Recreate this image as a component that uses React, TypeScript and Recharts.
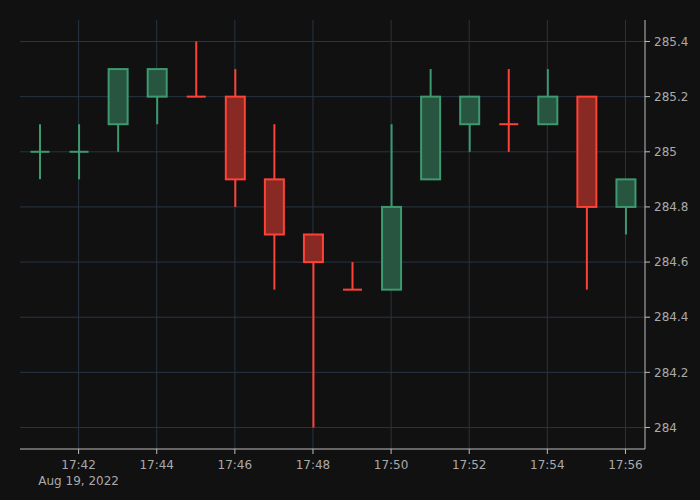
import React from 'react';
import { ComposedChart, Bar, XAxis, YAxis, CartesianGrid } from 'recharts';

const minutes = [41, 42, 43, 44, 45, 46, 47, 48, 49, 50, 51, 52, 53, 54, 55, 56];
const opens = [285.0, 285.0, 285.1, 285.2, 285.2, 285.2, 284.9, 284.7, 284.5, 284.5, 284.9, 285.1, 285.1, 285.1, 285.2, 284.8];
const highs = [285.1, 285.1, 285.3, 285.3, 285.4, 285.3, 285.1, 284.7, 284.6, 285.1, 285.3, 285.2, 285.3, 285.3, 285.2, 284.9];
const lows = [284.9, 284.9, 285.0, 285.1, 285.2, 284.8, 284.5, 284.0, 284.5, 284.5, 284.9, 285.0, 285.0, 285.1, 284.5, 284.7];
const closes = [285.0, 285.0, 285.3, 285.3, 285.2, 284.9, 284.7, 284.6, 284.5, 284.8, 285.2, 285.2, 285.1, 285.2, 284.8, 284.9];
const isUp = [true, true, true, true, false, false, false, false, false, true, true, true, false, true, false, true];

const xTicks = [42, 44, 46, 48, 50, 52, 54, 56];
const yTicks = [284, 284.2, 284.4, 284.6, 284.8, 285, 285.2, 285.4];
const dateLabel = 'Aug 19, 2022';

const data = minutes.map((m, i) => ({
  t: m,
  open: opens[i],
  high: highs[i],
  low: lows[i],
  close: closes[i],
  up: isUp[i],
  range: [lows[i], highs[i]],
}));

const UP_LINE = '#3D9970';
const UP_FILL = '#275540';
const DN_LINE = '#FF4136';
const DN_FILL = '#882923';
const TEXT = '#aaaaaa';
const AXIS = '#bdbdbd';
const GRID = '#283442';
const FONT = 'DejaVu Sans, sans-serif';

const Candle = (props: any) => {
  const { x, y, width, height, payload } = props;
  const { open, high, low, close, up } = payload;
  const cx = x + width / 2;
  const span = high - low;
  const toY = (v: number) => (span === 0 ? y : y + ((high - v) / span) * height);
  const yHigh = y;
  const yLow = y + height;
  const yO = toY(open);
  const yC = toY(close);
  const top = Math.min(yO, yC);
  const bot = Math.max(yO, yC);
  const line = up ? UP_LINE : DN_LINE;
  const fill = up ? UP_FILL : DN_FILL;
  const bw = 19;
  return (
    <g>
      {top > yHigh && <line x1={cx} x2={cx} y1={yHigh} y2={top} stroke={line} strokeWidth={2} />}
      {yLow > bot && <line x1={cx} x2={cx} y1={bot} y2={yLow} stroke={line} strokeWidth={2} />}
      {bot - top < 0.5 ? (
        <line x1={cx - bw / 2} x2={cx + bw / 2} y1={top} y2={top} stroke={line} strokeWidth={2} />
      ) : (
        <rect x={cx - bw / 2} y={top} width={bw} height={bot - top} fill={fill} stroke={line} strokeWidth={2} />
      )}
    </g>
  );
};

const XTick = (props: any) => {
  const { x, y, payload, index } = props;
  const mm = String(payload.value).padStart(2, '0');
  return (
    <g>
      <text x={x} y={y} dy="0.71em" textAnchor="middle" fill={TEXT} fontSize={12} fontFamily={FONT}>
        {`17:${mm}`}
      </text>
      {index === 0 && (
        <text x={x} y={y + 16} dy="0.71em" textAnchor="middle" fill={TEXT} fontSize={12} fontFamily={FONT}>
          {dateLabel}
        </text>
      )}
    </g>
  );
};

export default function App() {
  return (
    <div style={{ position: 'fixed', left: 0, top: 0, width: 700, height: 500, background: '#111111' }}>
      <ComposedChart
        width={700}
        height={500}
        data={data}
        margin={{ top: 20, right: 0, left: 20, bottom: 0 }}
      >
        <CartesianGrid
          stroke={GRID}
          strokeWidth={1}
          horizontalValues={yTicks}
          verticalValues={xTicks}
        />
        <XAxis
          dataKey="t"
          type="number"
          domain={[40.5, 56.5]}
          ticks={xTicks}
          allowDataOverflow
          height={51}
          stroke={AXIS}
          tickSize={5}
          tickMargin={6}
          tick={<XTick />}
        />
        <YAxis
          orientation="right"
          type="number"
          domain={[283.922, 285.478]}
          ticks={yTicks}
          allowDataOverflow
          width={55}
          stroke={AXIS}
          tickSize={5}
          tickMargin={4}
          tick={{ fill: TEXT, fontSize: 12, fontFamily: FONT }}
          tickFormatter={(v: number) => String(parseFloat(v.toFixed(1)))}
        />
        <Bar dataKey="range" barSize={20} shape={<Candle />} isAnimationActive={false} />
      </ComposedChart>
    </div>
  );
}
